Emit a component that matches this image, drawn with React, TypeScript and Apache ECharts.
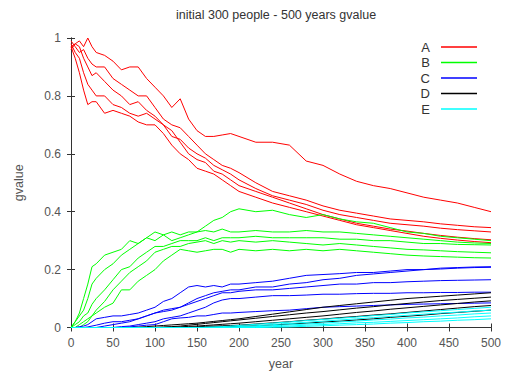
import React, { useEffect, useRef } from "react";
import * as echarts from "echarts";

const years = [0, 5, 10, 15, 20, 25, 30, 40, 50, 60, 70, 80, 90, 100, 110, 120, 130, 140, 150, 160, 170, 180, 190, 200, 220, 240, 260, 280, 300, 320, 340, 360, 380, 400, 420, 440, 460, 480, 500];

const xTicks = { min: 0, max: 500, interval: 50 };
const yTicks = { min: 0, max: 1, interval: 0.2 };
const legendNames = ["A", "B", "C", "D", "E"];
const groupColors = ["#ff0000", "#00ff00", "#0000ff", "#000000", "#00ffff"];

const a1 = [0.97, 0.98, 0.99, 0.97, 1.0, 0.97, 0.95, 0.94, 0.92, 0.89, 0.9, 0.9, 0.86, 0.83, 0.8, 0.76, 0.79, 0.72, 0.68, 0.66, 0.66, 0.665, 0.67, 0.66, 0.64, 0.64, 0.63, 0.575, 0.56, 0.53, 0.505, 0.49, 0.48, 0.465, 0.45, 0.44, 0.43, 0.415, 0.4];
const a2 = [0.99, 0.97, 0.95, 0.96, 0.93, 0.91, 0.9, 0.9, 0.86, 0.84, 0.82, 0.8, 0.8, 0.76, 0.72, 0.7, 0.69, 0.66, 0.63, 0.6, 0.58, 0.56, 0.55, 0.535, 0.5, 0.47, 0.455, 0.44, 0.42, 0.405, 0.395, 0.385, 0.375, 0.37, 0.365, 0.358, 0.353, 0.348, 0.345];
const a3 = [0.96, 0.98, 0.97, 0.93, 0.9, 0.87, 0.88, 0.85, 0.82, 0.8, 0.77, 0.78, 0.75, 0.73, 0.7, 0.66, 0.65, 0.62, 0.6, 0.585, 0.56, 0.545, 0.53, 0.51, 0.48, 0.455, 0.44, 0.425, 0.405, 0.39, 0.38, 0.37, 0.36, 0.355, 0.35, 0.343, 0.338, 0.334, 0.33];
const a4 = [0.98, 0.95, 0.93, 0.88, 0.84, 0.82, 0.8, 0.8, 0.77, 0.76, 0.74, 0.73, 0.74, 0.72, 0.7, 0.68, 0.64, 0.6, 0.58, 0.57, 0.54, 0.53, 0.51, 0.49, 0.47, 0.45, 0.43, 0.41, 0.39, 0.375, 0.36, 0.35, 0.34, 0.333, 0.325, 0.318, 0.312, 0.307, 0.303];
const a5 = [0.97, 0.93, 0.88, 0.82, 0.77, 0.78, 0.78, 0.74, 0.75, 0.74, 0.73, 0.71, 0.7, 0.7, 0.67, 0.63, 0.6, 0.58, 0.55, 0.54, 0.53, 0.51, 0.49, 0.47, 0.45, 0.43, 0.415, 0.4, 0.385, 0.37, 0.355, 0.345, 0.335, 0.325, 0.315, 0.308, 0.302, 0.297, 0.293];

const b1 = [0, 0.02, 0.05, 0.1, 0.15, 0.21, 0.22, 0.25, 0.26, 0.27, 0.3, 0.29, 0.31, 0.3, 0.32, 0.3, 0.31, 0.32, 0.33, 0.35, 0.37, 0.38, 0.4, 0.41, 0.4, 0.405, 0.39, 0.38, 0.39, 0.375, 0.365, 0.36, 0.345, 0.33, 0.325, 0.315, 0.31, 0.305, 0.3];
const b2 = [0, 0.02, 0.04, 0.06, 0.1, 0.15, 0.17, 0.2, 0.22, 0.25, 0.27, 0.29, 0.31, 0.33, 0.32, 0.33, 0.32, 0.33, 0.33, 0.335, 0.33, 0.34, 0.33, 0.33, 0.335, 0.33, 0.33, 0.335, 0.33, 0.33, 0.325, 0.32, 0.315, 0.31, 0.305, 0.3, 0.295, 0.292, 0.29];
const b3 = [0, 0.01, 0.02, 0.04, 0.05, 0.08, 0.1, 0.13, 0.165, 0.2, 0.21, 0.24, 0.26, 0.28, 0.28, 0.29, 0.3, 0.3, 0.3, 0.31, 0.3, 0.31, 0.31, 0.31, 0.315, 0.31, 0.31, 0.31, 0.31, 0.305, 0.305, 0.3, 0.3, 0.295, 0.29, 0.29, 0.287, 0.286, 0.285];
const b4 = [0, 0, 0.01, 0.02, 0.03, 0.04, 0.06, 0.09, 0.13, 0.16, 0.19, 0.21, 0.23, 0.26, 0.27, 0.28, 0.28, 0.29, 0.295, 0.3, 0.29, 0.3, 0.295, 0.3, 0.295, 0.3, 0.295, 0.29, 0.285, 0.29, 0.285, 0.28, 0.275, 0.27, 0.268, 0.265, 0.262, 0.26, 0.258];
const b5 = [0, 0, 0, 0.01, 0.02, 0.04, 0.05, 0.07, 0.084, 0.13, 0.13, 0.16, 0.18, 0.2, 0.23, 0.25, 0.27, 0.265, 0.26, 0.265, 0.27, 0.27, 0.26, 0.27, 0.265, 0.27, 0.265, 0.27, 0.265, 0.27, 0.265, 0.26, 0.255, 0.25, 0.247, 0.245, 0.243, 0.241, 0.24];

const c1 = [0, 0, 0.003, 0.005, 0.01, 0.02, 0.03, 0.035, 0.04, 0.04, 0.045, 0.05, 0.06, 0.07, 0.09, 0.1, 0.12, 0.14, 0.145, 0.14, 0.145, 0.14, 0.15, 0.15, 0.155, 0.16, 0.17, 0.18, 0.183, 0.186, 0.19, 0.19, 0.195, 0.2, 0.2, 0.205, 0.207, 0.209, 0.21];
const c2 = [0, 0, 0, 0, 0.002, 0.005, 0.008, 0.015, 0.02, 0.02, 0.025, 0.03, 0.04, 0.05, 0.055, 0.06, 0.07, 0.085, 0.1, 0.11, 0.12, 0.125, 0.13, 0.13, 0.14, 0.14, 0.15, 0.155, 0.165, 0.17, 0.18, 0.185, 0.19, 0.195, 0.2, 0.202, 0.205, 0.207, 0.208];
const c3 = [0, 0, 0, 0, 0, 0, 0, 0.005, 0.01, 0.015, 0.02, 0.03, 0.04, 0.05, 0.06, 0.065, 0.07, 0.08, 0.09, 0.1, 0.11, 0.12, 0.12, 0.125, 0.13, 0.13, 0.135, 0.14, 0.145, 0.15, 0.15, 0.155, 0.155, 0.158, 0.16, 0.162, 0.163, 0.164, 0.165];
const c4 = [0, 0, 0, 0, 0, 0, 0, 0, 0, 0.003, 0.005, 0.01, 0.015, 0.02, 0.03, 0.035, 0.04, 0.05, 0.06, 0.07, 0.085, 0.095, 0.1, 0.1, 0.105, 0.11, 0.11, 0.112, 0.115, 0.115, 0.117, 0.118, 0.118, 0.12, 0.12, 0.121, 0.121, 0.122, 0.122];
const c5 = [0, 0, 0, 0, 0, 0, 0, 0, 0, 0, 0.002, 0.005, 0.008, 0.01, 0.02, 0.03, 0.033, 0.035, 0.04, 0.04, 0.045, 0.05, 0.05, 0.052, 0.055, 0.058, 0.06, 0.065, 0.07, 0.072, 0.074, 0.076, 0.078, 0.08, 0.081, 0.082, 0.083, 0.084, 0.085];

const d1 = [0, 0, 0, 0, 0, 0, 0, 0, 0, 0, 0, 0.001, 0.003, 0.005, 0.007, 0.009, 0.011, 0.013, 0.015, 0.018, 0.021, 0.024, 0.027, 0.03, 0.038, 0.046, 0.054, 0.062, 0.07, 0.076, 0.082, 0.088, 0.094, 0.1, 0.104, 0.108, 0.112, 0.116, 0.12];
const d2 = [0, 0, 0, 0, 0, 0, 0, 0, 0, 0, 0, 0, 0, 0, 0.002, 0.003, 0.005, 0.008, 0.011, 0.014, 0.017, 0.02, 0.023, 0.026, 0.032, 0.038, 0.044, 0.05, 0.055, 0.061, 0.067, 0.072, 0.078, 0.083, 0.088, 0.093, 0.097, 0.101, 0.105];
const d3 = [0, 0, 0, 0, 0, 0, 0, 0, 0, 0, 0, 0, 0, 0, 0, 0.001, 0.002, 0.004, 0.005, 0.007, 0.009, 0.011, 0.013, 0.015, 0.02, 0.025, 0.03, 0.035, 0.04, 0.046, 0.052, 0.057, 0.063, 0.068, 0.073, 0.078, 0.083, 0.088, 0.092];
const d4 = [0, 0, 0, 0, 0, 0, 0, 0, 0, 0, 0, 0, 0, 0, 0, 0, 0, 0.001, 0.002, 0.004, 0.005, 0.006, 0.007, 0.008, 0.012, 0.016, 0.02, 0.025, 0.029, 0.034, 0.038, 0.043, 0.047, 0.052, 0.057, 0.062, 0.067, 0.072, 0.076];
const d5 = [0, 0, 0, 0, 0, 0, 0, 0, 0, 0, 0, 0, 0, 0, 0, 0, 0, 0, 0, 0.001, 0.002, 0.003, 0.003, 0.004, 0.006, 0.009, 0.012, 0.015, 0.019, 0.022, 0.026, 0.03, 0.035, 0.039, 0.043, 0.048, 0.052, 0.056, 0.06];

const e1 = [0, 0, 0, 0, 0, 0, 0, 0, 0, 0, 0, 0, 0, 0, 0, 0, 0, 0, 0, 0.001, 0.002, 0.003, 0.005, 0.007, 0.011, 0.015, 0.019, 0.024, 0.028, 0.032, 0.036, 0.041, 0.045, 0.05, 0.054, 0.058, 0.062, 0.066, 0.07];
const e2 = [0, 0, 0, 0, 0, 0, 0, 0, 0, 0, 0, 0, 0, 0, 0, 0, 0, 0, 0, 0, 0, 0.001, 0.002, 0.003, 0.006, 0.01, 0.014, 0.018, 0.022, 0.026, 0.03, 0.034, 0.038, 0.042, 0.046, 0.05, 0.053, 0.057, 0.06];
const e3 = [0, 0, 0, 0, 0, 0, 0, 0, 0, 0, 0, 0, 0, 0, 0, 0, 0, 0, 0, 0, 0, 0, 0, 0.001, 0.003, 0.006, 0.009, 0.012, 0.015, 0.019, 0.022, 0.026, 0.029, 0.033, 0.036, 0.04, 0.043, 0.047, 0.05];
const e4 = [0, 0, 0, 0, 0, 0, 0, 0, 0, 0, 0, 0, 0, 0, 0, 0, 0, 0, 0, 0, 0, 0, 0, 0, 0.001, 0.003, 0.005, 0.008, 0.01, 0.013, 0.016, 0.018, 0.021, 0.024, 0.027, 0.03, 0.033, 0.037, 0.04];
const e5 = [0, 0, 0, 0, 0, 0, 0, 0, 0, 0, 0, 0, 0, 0, 0, 0, 0, 0, 0, 0, 0, 0, 0, 0, 0, 0.001, 0.002, 0.004, 0.006, 0.008, 0.01, 0.012, 0.015, 0.017, 0.02, 0.022, 0.025, 0.027, 0.03];

const groups = [
  [a1, a2, a3, a4, a5],
  [b1, b2, b3, b4, b5],
  [c1, c2, c3, c4, c5],
  [d1, d2, d3, d4, d5],
  [e1, e2, e3, e4, e5],
];

const FONT = "'Liberation Sans', Arial, sans-serif";

export default function App() {
  const ref = useRef<HTMLDivElement>(null);

  useEffect(() => {
    if (!ref.current) return;
    const chart = echarts.init(ref.current, null, { renderer: "svg" });

    const series: any[] = [];
    groups.forEach((lines, gi) => {
      lines.forEach((vals) => {
        series.push({
          type: "line",
          name: legendNames[gi],
          data: years.map((y, i) => [y, vals[i]]),
          symbol: "none",
          showSymbol: false,
          silent: true,
          lineStyle: { width: 1, color: groupColors[gi] },
          itemStyle: { color: groupColors[gi] },
          emphasis: { disabled: true },
        });
      });
    });

    const frame = { show: true, lineStyle: { color: "#333", width: 1 } };
    const tick = { show: true, inside: true, length: 4, lineStyle: { color: "#333" } };

    chart.setOption({
      animation: false,
      backgroundColor: "#fff",
      title: {
        text: "initial 300 people - 500 years gvalue",
        left: 176,
        top: 8,
        padding: 0,
        textStyle: { fontFamily: FONT, fontSize: 12.5, fontWeight: "normal", color: "#333" },
      },
      legend: {
        data: legendNames,
        orient: "vertical",
        align: "right",
        right: 28,
        top: 40,
        padding: 0,
        icon: "rect",
        itemWidth: 36,
        itemHeight: 1.5,
        itemGap: 1.5,
        selectedMode: false,
        textStyle: { fontFamily: FONT, fontSize: 13, color: "#333", lineHeight: 14, padding: [0, 6, 0, 0] },
      },
      grid: { left: 71, right: 14, top: 38, bottom: 49.5, containLabel: false },
      xAxis: [
        {
          type: "value",
          ...xTicks,
          position: "bottom",
          axisLine: frame,
          axisTick: tick,
          splitLine: { show: false },
          axisLabel: { color: "#555", fontFamily: FONT, fontSize: 12, margin: 9 },
          name: "year",
          nameLocation: "middle",
          nameGap: 30,
          nameTextStyle: { color: "#555", fontFamily: FONT, fontSize: 12.5 },
        },
        {
          type: "value",
          ...xTicks,
          position: "top",
          axisLine: frame,
          axisTick: tick,
          splitLine: { show: false },
          axisLabel: { show: false },
        },
      ],
      yAxis: [
        {
          type: "value",
          ...yTicks,
          position: "left",
          axisLine: frame,
          axisTick: tick,
          splitLine: { show: false },
          axisLabel: { color: "#555", fontFamily: FONT, fontSize: 12, margin: 10 },
          name: "gvalue",
          nameLocation: "middle",
          nameGap: 46,
          nameTextStyle: { color: "#555", fontFamily: FONT, fontSize: 12.5 },
        },
        {
          type: "value",
          ...yTicks,
          position: "right",
          axisLine: frame,
          axisTick: tick,
          splitLine: { show: false },
          axisLabel: { show: false },
        },
      ],
      series,
    });

    return () => chart.dispose();
  }, []);

  return <div ref={ref} style={{ position: "fixed", left: 0, top: 0, width: 505, height: 377 }} />;
}
